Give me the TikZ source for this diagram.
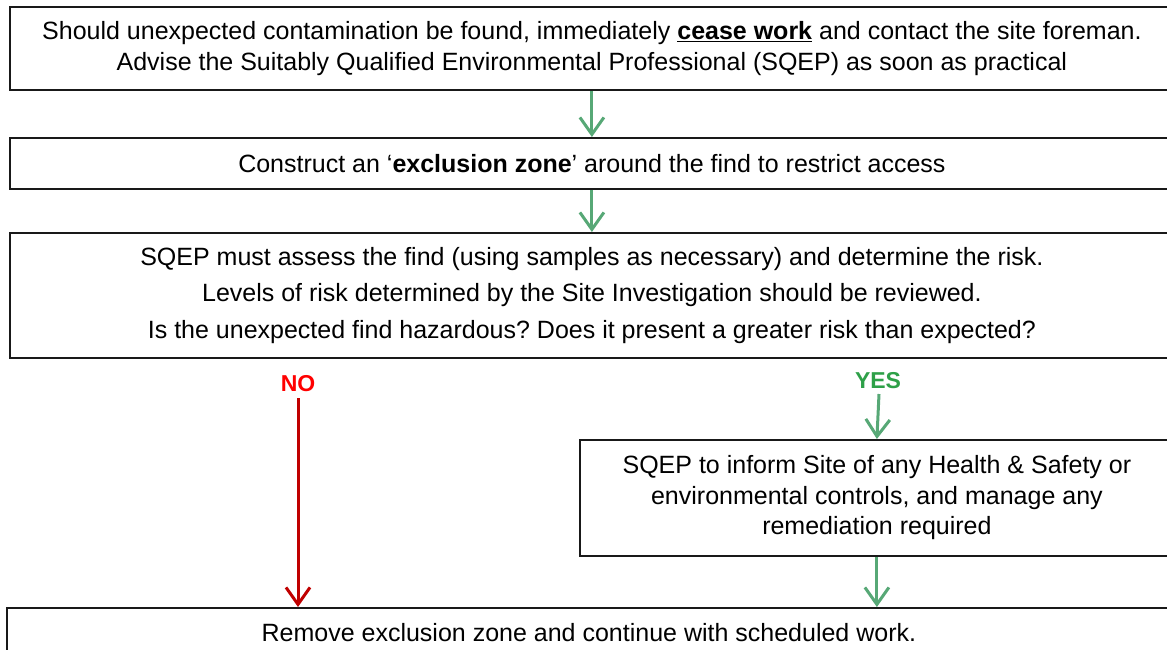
\documentclass[tikz,border=0pt]{standalone}
\usepackage{fontspec}
\setmainfont{Liberation Sans}
\usetikzlibrary{arrows.meta}
\definecolor{arrgreen}{RGB}{87,168,118}
\definecolor{yesgreen}{RGB}{46,160,72}
\definecolor{nored}{RGB}{255,0,0}
\definecolor{arrred}{RGB}{192,0,0}
\frenchspacing
\begin{document}
\begin{tikzpicture}[x=1pt,y=-1pt,
  box/.style={draw=black!90, line width=1.8pt, inner sep=0pt, align=center,
    anchor=north west, font=\fontsize{25}{31}\selectfont},
  garrow/.style={draw=arrgreen, line width=3pt, -{Straight Barb[length=17pt,width=24pt,line width=3pt]}},
  rarrow/.style={draw=arrred, line width=3pt, -{Straight Barb[length=17pt,width=24pt,line width=3pt]}},
  lbl/.style={font=\fontsize{23}{26}\selectfont\bfseries, inner sep=0pt}]
\useasboundingbox (0,0) rectangle (1167,650);
\node[box, minimum width=1164pt, minimum height=83pt] (a) at (9,6)
  {Should unexpected contamination be found, immediately \underline{\textbf{cease work}} and contact the site foreman.\\
   Advise the Suitably Qualified Environmental Professional (SQEP) as soon as practical};
\node[box, minimum width=1164pt, minimum height=51pt] (b) at (9,137)
  {Construct an ‘\textbf{exclusion zone}’ around the find to restrict access};
\node[box, minimum width=1164pt, minimum height=125pt, font=\fontsize{25}{36.5}\selectfont] (c) at (9,232)
  {SQEP must assess the find (using samples as necessary) and determine the risk.\\
   Levels of risk determined by the Site Investigation should be reviewed.\\
   Is the unexpected find hazardous? Does it present a greater risk than expected?};
\node[box, minimum width=594pt, minimum height=116pt, font=\fontsize{25}{30.5}\selectfont] (d) at (579,439)
  {SQEP to inform Site of any Health \& Safety or\\
   environmental controls, and manage any\\
   remediation required};
\node[box, minimum width=1164pt, minimum height=50pt] (e) at (6,607)
  {Remove exclusion zone and continue with scheduled work.};
\node[lbl, text=nored] (no) at (298,384) {NO};
\node[lbl, text=yesgreen] (yes) at (878,381) {YES};
\coordinate (nostart) at (298,398);
\coordinate (yesstart) at (879,394);
\draw[garrow] (a.south) -- (b.north);
\draw[garrow] (b.south) -- (c.north);
\draw[rarrow] (nostart) -- (nostart |- e.north);
\draw[garrow] (yesstart) -- (d.north);
\draw[garrow] (d.south) -- (d.south |- e.north);
\end{tikzpicture}
\end{document}
